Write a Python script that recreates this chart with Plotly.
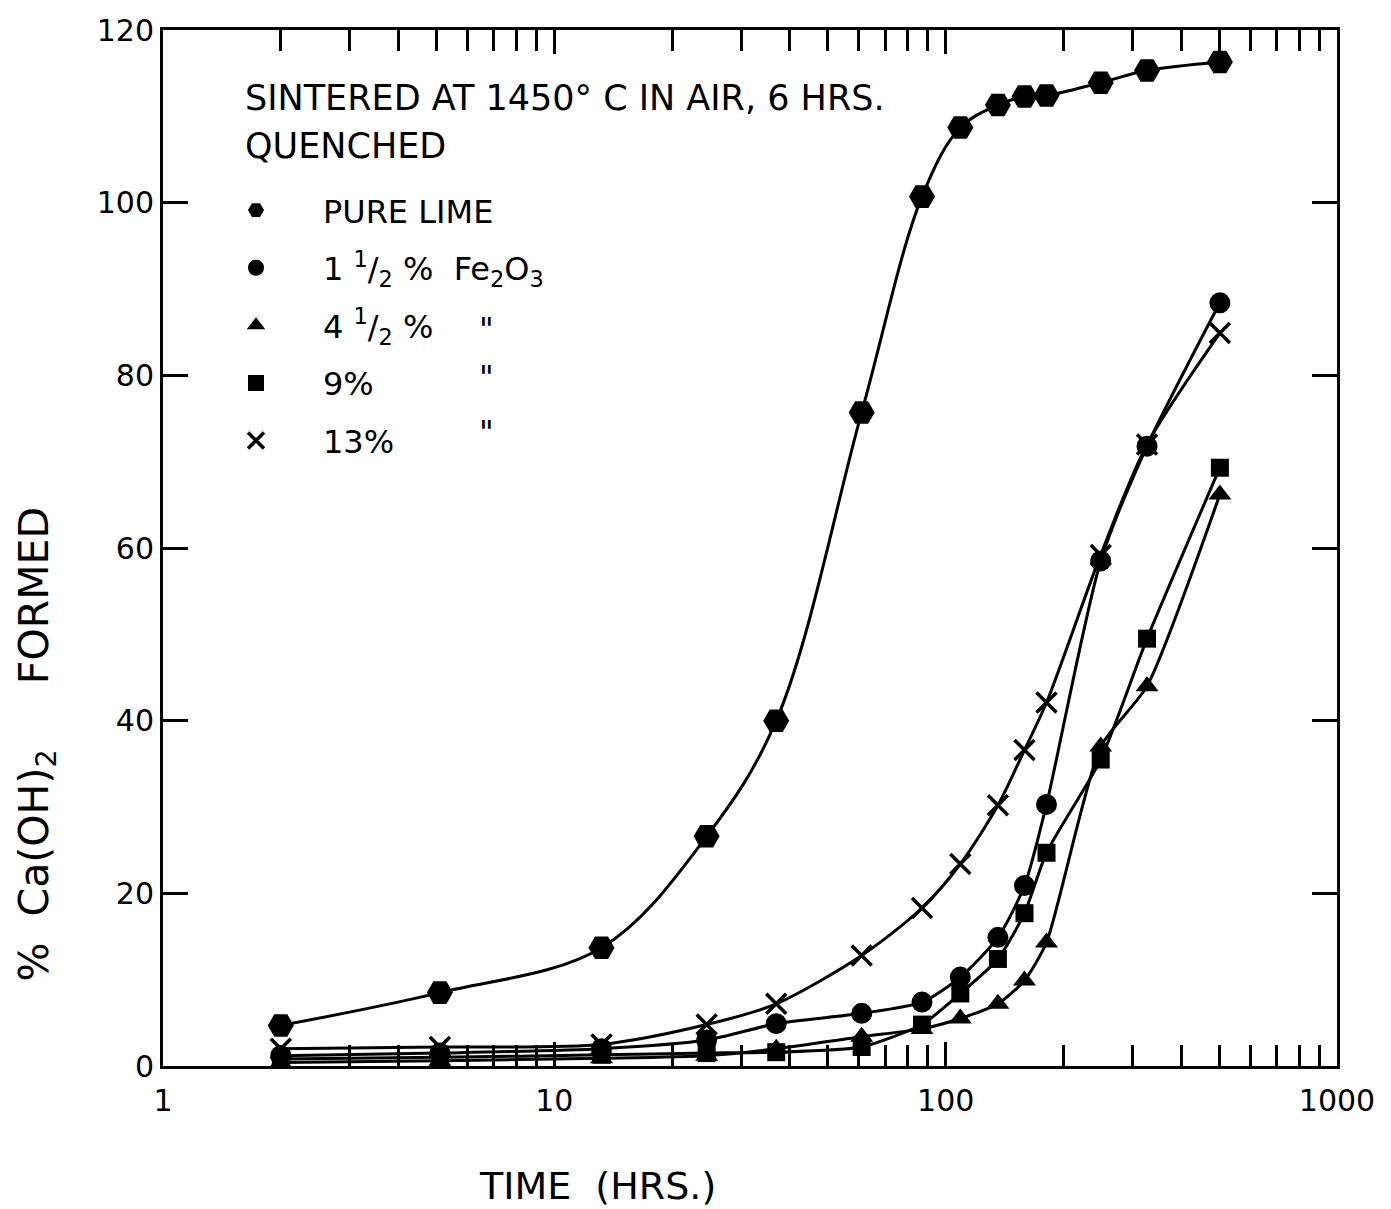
import plotly.graph_objects as go

# ---- data ----
time_hrs = [2.0, 5.1, 13.2, 24.5, 36.9, 61.0, 87.0, 109.0, 136.0, 159.0, 181.0, 249.0, 327.0, 502.0]

pure_lime = [4.7, 8.5, 13.7, 26.6, 40.0, 75.7, 100.7, 108.7, 111.3, 112.3, 112.4, 113.9, 115.3, 116.3]
fe_1_5 = [1.2, 1.5, 2.0, 3.0, 4.9, 6.1, 7.4, 10.3, 14.9, 20.9, 30.3, 58.5, 71.8, 88.4]
fe_4_5 = [0.4, 0.6, 0.9, 1.2, 2.0, 3.4, 4.3, 5.5, 7.2, 9.9, 14.3, 37.0, 44.0, 66.2]
fe_9 = [0.8, 1.0, 1.3, 1.5, 1.6, 2.2, 4.8, 8.4, 12.4, 17.7, 24.7, 35.5, 49.5, 69.3]
fe_13 = [2.0, 2.2, 2.5, 4.8, 7.2, 12.8, 18.3, 23.4, 30.2, 36.6, 42.1, 59.2, 72.0, 84.9]

x_tickvals = [1, 10, 100, 1000]
x_ticktext = ["1", "10", "100", "1000"]
x_minor = [m * d for d in (1, 10, 100) for m in range(2, 10)]
y_tickvals = [0, 20, 40, 60, 80, 100, 120]

LPAD = "\u00a0\u00a0\u00a0\u2009"
series = [
    (LPAD + "PURE LIME", pure_lime, "hexagon2", 26, 1.0),
    (LPAD + "1 <sup>1</sup>/<sub>2</sub> %  Fe<sub>2</sub>O<sub>3</sub>", fe_1_5, "circle", 21, 0.7),
    (LPAD + "4 <sup>1</sup>/<sub>2</sub> %", fe_4_5, "triangle-up", 20, 0.6),
    (LPAD + "9%", fe_9, "square", 18, 0.6),
    (LPAD + "13%", fe_13, "x-thin", 20, 0.8),
]

FONT = "DejaVu Sans"
W, H = 1391, 1209
L, R, T, B = 163, 54, 22, 143
PW, PH = W - L - R, H - T - B


def px(xp):
    return (xp - L) / PW


def py(yp):
    return (H - B - yp) / PH


fig = go.Figure()
for i, (name, vals, sym, size, smooth) in enumerate(series):
    marker = dict(symbol=sym, size=size, color="black")
    if sym == "x-thin":
        marker["line"] = dict(width=3.5, color="black")
    fig.add_trace(go.Scatter(
        x=time_hrs, y=vals, mode="lines+markers", name=name,
        line=dict(color="black", width=3, shape="spline", smoothing=smooth),
        marker=marker, showlegend=False,
    ))
    # legend-only entry (marker only)
    fig.add_trace(go.Scatter(
        x=[None], y=[None], mode="markers", name=name,
        marker=dict(marker), legendgroup=f"g{i}", showlegend=True,
    ))

axis_common = dict(
    showgrid=False, zeroline=False, showline=True, linecolor="black", linewidth=3,
    mirror="ticks", ticks="inside", tickcolor="black", tickwidth=2.5,
    tickfont=dict(family=FONT, size=30, color="black"),
)

fig.update_xaxes(
    type="log", range=[0, 3], tickmode="array", tickvals=x_tickvals, ticktext=x_ticktext,
    ticklen=24, ticklabelstandoff=6,
    minor=dict(ticks="inside", tickmode="array", tickvals=x_minor, ticklen=21,
               tickwidth=2.5, tickcolor="black", showgrid=False),
    **axis_common,
)
fig.update_yaxes(
    range=[0, 120], tickmode="array", tickvals=y_tickvals, ticklen=25,
    **axis_common,
)

annotations = [
    dict(text="SINTERED AT 1450° C IN AIR, 6 HRS.", x=px(243), y=py(91), size=35),
    dict(text="QUENCHED", x=px(243), y=py(139), size=35),
]
for yrow in (323, 372, 427):
    annotations.append(dict(text='"', x=px(477), y=py(yrow), size=32))

ann_objs = []
for a in annotations:
    ann_objs.append(dict(
        text=a["text"], x=a["x"], y=a["y"], xref="paper", yref="paper",
        xanchor="left", yanchor="middle", showarrow=False,
        font=dict(family=FONT, size=a["size"], color="black"),
    ))
ann_objs.append(dict(
    text="TIME  (HRS.)", x=px(597), y=py(1187), xref="paper", yref="paper",
    xanchor="center", yanchor="middle", showarrow=False,
    font=dict(family=FONT, size=38, color="black"),
))
ann_objs.append(dict(
    text="%\u00a0\u00a0Ca(OH)<sub>2</sub>\u00a0\u00a0\u00a0\u00a0\u00a0FORMED",
    x=px(37), y=py(742),
    xref="paper", yref="paper", xanchor="center", yanchor="middle",
    textangle=-90, showarrow=False,
    font=dict(family=FONT, size=41, color="black"),
))

fig.update_layout(
    width=W, height=H,
    margin=dict(l=L, r=R, t=T, b=B, pad=0),
    paper_bgcolor="white", plot_bgcolor="white",
    annotations=ann_objs,
    legend=dict(
        x=px(226), y=py(176), xanchor="left", yanchor="top",
        bgcolor="rgba(0,0,0,0)", borderwidth=0,
        font=dict(family=FONT, size=32, color="black"),
        traceorder="grouped", tracegroupgap=13, itemwidth=50,
    ),
)

fig.write_html("out.html")
